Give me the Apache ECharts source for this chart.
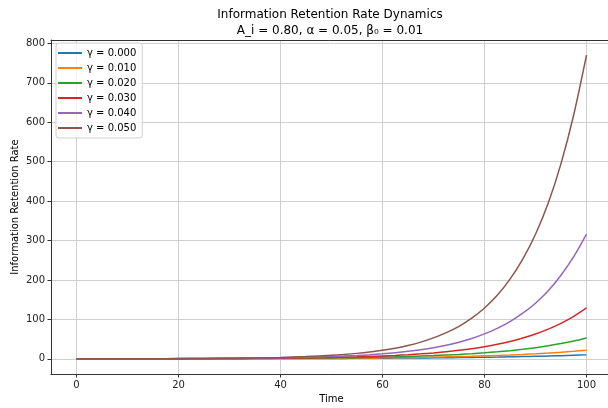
<!DOCTYPE html>
<html>
<head>
<meta charset="utf-8">
<script src="https://cdn.jsdelivr.net/npm/echarts@6/dist/echarts.min.js"></script>
<style>
html,body{margin:0;padding:0;background:#fff;}
#chart{width:608px;height:408px;}
</style>
</head>
<body>
<div id="chart"></div>
<script>
const times = [0,5,10,15,20,25,30,35,40,45,50,52.5,55,57.5,60,62.5,65,67.5,70,72.5,75,77.5,80,82.5,85,87.5,90,92.5,95,97.5,100];
const seriesNames = ['γ = 0.000','γ = 0.010','γ = 0.020','γ = 0.030','γ = 0.040','γ = 0.050'];
const gamma000 = [0.1,0.13,0.16,0.2,0.25,0.32,0.4,0.5,0.63,0.79,1,1.12,1.26,1.41,1.58,1.78,2,2.24,2.5,2.82,3.2,3.55,4,4.47,5,5.62,6.3,7.08,7.9,8.9,10];
const gamma010 = [0.1,0.13,0.17,0.22,0.29,0.39,0.5,0.66,0.86,1.13,1.48,1.7,1.94,2.2,2.54,2.9,3.3,3.8,4.35,5.0,5.7,6.5,7.5,8.6,9.8,11.2,12.8,14.6,16.7,19.1,22];
const gamma020 = [0.1,0.14,0.19,0.26,0.35,0.48,0.66,0.9,1.23,1.7,2.3,2.7,3.15,3.7,4.3,5.0,5.9,6.9,8.1,9.5,11,12.9,15.1,17.7,20.6,24.1,28.2,33,38.6,45.2,53];
const gamma030 = [0.1,0.14,0.2,0.29,0.42,0.6,0.86,1.2,1.75,2.5,3.6,4.3,5.1,6.1,7.3,8.7,10.5,12.6,15,17.9,21.5,25.7,30.7,36.7,44,52.6,63,75.4,90,107.6,129];
const gamma040 = [0.1,0.15,0.22,0.34,0.5,0.75,1.1,1.7,2.5,3.8,5.6,6.85,8.4,10.3,12.6,15.4,18.9,23.1,28.2,34.5,42.2,51.6,63.2,77.3,94.5,115.6,141,172.5,212,259,316];
const gamma050 = [0.1,0.16,0.25,0.38,0.6,0.94,1.5,2.3,3.6,5.6,8.8,11,13.8,17.3,21.5,26.9,33.8,42.3,53,66.3,82.5,103,129,161,202,253,316,395,495,619,770];
const xTicks = [0,20,40,60,80,100];
const yTicks = [0,100,200,300,400,500,600,700,800];
const colors = ['#1f77b4','#ff7f0e','#2ca02c','#d62728','#9467bd','#8c564b'];
const allValues = [gamma000,gamma010,gamma020,gamma030,gamma040,gamma050];

const font = 'DejaVu Sans';
const chart = echarts.init(document.getElementById('chart'), null, {renderer:'canvas'});
const series = allValues.map((vals,i)=>({
  name: seriesNames[i],
  type: 'line',
  data: times.map((t,j)=>[t, vals[j]]),
  smooth: 0.3,
  showSymbol: false,
  symbol: 'none',
  lineStyle: {width: 1.5, color: colors[i]},
  itemStyle: {color: colors[i]},
  z: 3 + i
}));

chart.setOption({
  animation: false,
  backgroundColor: '#fff',
  title: {
    text: 'Information Retention Rate Dynamics\nA_i = 0.80, α = 0.05, β₀ = 0.01',
    left: 325,
    top: 2,
    textAlign: 'center',
    textStyle: {fontFamily: font, fontSize: 12, fontWeight: 'normal', color: '#000', lineHeight: 16}
  },
  legend: {
    orient: 'vertical',
    left: 56,
    top: 43,
    icon: 'rect',
    itemWidth: 24,
    itemHeight: 2,
    itemGap: 3,
    padding: [4, 6, 4, 2],
    backgroundColor: 'rgba(255,255,255,0.8)',
    borderColor: '#d0d0d0',
    borderWidth: 1,
    borderRadius: 3,
    textStyle: {fontFamily: font, fontSize: 10, color: '#000', lineHeight: 12},
    data: seriesNames
  },
  grid: {left: 51, top: 40, width: 561, height: 334, containLabel: false, outerBoundsMode: 'none'},
  xAxis: [{
    type: 'value',
    min: -5,
    max: 105,
    name: 'Time',
    nameLocation: 'middle',
    nameGap: 20,
    nameMoveOverlap: false,
    nameTextStyle: {fontFamily: font, fontSize: 10, color: '#000'},
    axisLine: {show: true, onZero: false, lineStyle: {color: '#333', width: 1}},
    axisTick: {show: true, customValues: xTicks, length: 3.5, inside: false, lineStyle: {color: '#333'}},
    axisLabel: {customValues: xTicks, fontFamily: font, fontSize: 10, color: '#222', margin: 6},
    splitLine: {show: true, lineStyle: {color: '#c4c4c4', width: 0.8}}
  }, {
    type: 'value',
    position: 'top',
    min: -5,
    max: 105,
    axisLine: {show: true, onZero: false, lineStyle: {color: '#333', width: 1}},
    axisTick: {show: false},
    axisLabel: {show: false},
    splitLine: {show: false}
  }],
  yAxis: {
    type: 'value',
    min: -38.5,
    max: 808.5,
    name: 'Information Retention Rate',
    nameLocation: 'middle',
    nameGap: 31,
    nameMoveOverlap: false,
    nameRotate: 90,
    nameTextStyle: {fontFamily: font, fontSize: 10, color: '#000'},
    axisLine: {show: true, onZero: false, lineStyle: {color: '#333', width: 1}},
    axisTick: {show: true, customValues: yTicks, length: 3.5, lineStyle: {color: '#333'}},
    axisLabel: {customValues: yTicks, fontFamily: font, fontSize: 10, color: '#222', margin: 6},
    splitLine: {show: true, lineStyle: {color: '#c4c4c4', width: 0.8}}
  },
  series: series
});
</script>
</body>
</html>
